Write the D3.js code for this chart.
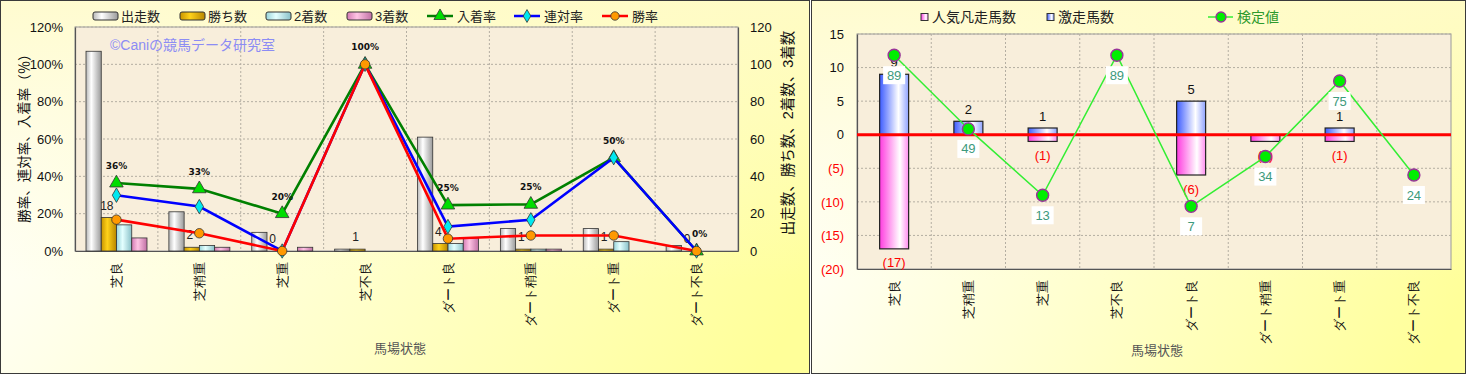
<!DOCTYPE html>
<html>
<head>
<meta charset="utf-8">
<script src="https://cdn.jsdelivr.net/npm/d3@7"></script>
<style>
    body { margin: 0; background: #fff; }
    svg { display: block; font-family: "Liberation Sans", "Noto Sans CJK JP", sans-serif; }
</style>
</head>
<body>
<div id="chart"></div>
<script>
// ---- data ----
const conditions = ['芝良', '芝稍重', '芝重', '芝不良', 'ダート良', 'ダート稍重', 'ダート重', 'ダート不良'];

// left chart: counts (right axis) and rates in % (left axis)
const runCounts    = [107, 21, 10, 1, 61, 12, 12, 3];
const winCounts    = [18, 2, 0, 1, 4, 1, 1, 0];
const secondCounts = [14, 3, 0, 0, 4, 1, 5, 0];
const thirdCounts  = [7, 2, 2, 0, 7, 1, 0, 0];
const placeRate    = [36.4, 33.3, 20, 100, 24.6, 25, 50, 0];
const rentaiRate   = [29.9, 23.8, 0, 100, 13.1, 16.7, 50, 0];
const winRate      = [16.8, 9.5, 0, 100, 6.6, 8.3, 8.3, 0];
const pctTicks     = [0, 20, 40, 60, 80, 100, 120];
const countTicks   = [0, 20, 40, 60, 80, 100, 120];

// right chart
const surgeCounts  = [9, 2, 1, 0, 5, 0, 1, 0];
const flopCounts   = [-17, 0, -1, 0, -6, -1, -1, 0];
const kenteiValues = [89, 49, 13, 89, 7, 34, 75, 24];
const diffTicks    = [-20, -15, -10, -5, 0, 5, 10, 15];

const W = 1466, H = 374;

const svg = d3.select('#chart').append('svg')
    .attr('width', W)
    .attr('height', H);
const defs = svg.append('defs');

function addGradient(id, stops, x1, y1, x2, y2) {
    let g = defs.append('linearGradient').attr('id', id)
        .attr('x1', x1).attr('y1', y1).attr('x2', x2).attr('y2', y2);
    stops.forEach(s => g.append('stop').attr('offset', s[0]).attr('stop-color', s[1]).attr('stop-opacity', s[2] === undefined ? 1 : s[2]));
}

addGradient('panelBg',  [[0, '#fffffa'], [1, '#ffff99']], 0, 0.5, 1, 0.8);
addGradient('panelTop', [[0, '#fffbc8', 0.85], [0.75, '#fffbc8', 0]], 0, 0, 0, 1);
addGradient('gRun',    [[0, '#b8b8b8'], [0.35, '#ffffff'], [1, '#9a9a9a']], 0, 0, 1, 0);
addGradient('gWin',    [[0, '#c89400'], [0.4, '#ffd21a'], [1, '#b88600']], 0, 0, 1, 0);
addGradient('gSecond', [[0, '#9ad4da'], [0.4, '#e4ffff'], [1, '#88c0c8']], 0, 0, 1, 0);
addGradient('gThird',  [[0, '#d47cb4'], [0.4, '#ffc4e4'], [1, '#c070a4']], 0, 0, 1, 0);
addGradient('gSurge',  [[0, '#3d5cff'], [0.65, '#ffffff'], [1, '#8fa2ff']], 0, 0, 1, 0);
addGradient('gFlop',   [[0, '#ff3ce0'], [0.7, '#ffffff'], [1, '#ff8cf0']], 0, 0, 1, 0);

function drawPanel(g, width) {
    g.append('rect')
        .attr('x', 0.5).attr('y', 0.5)
        .attr('width', width - 1).attr('height', H - 1)
        .attr('fill', 'url(#panelBg)');
    g.append('rect')
        .attr('x', 0.5).attr('y', 0.5)
        .attr('width', width - 1).attr('height', H - 1)
        .attr('fill', 'url(#panelTop)')
        .attr('stroke', '#3a3a3a');
}

/* * * * * * * * * * * * * *
*    left: results chart   *
* * * * * * * * * * * * * */
class ResultsChart {

    constructor(parent) {
        this.parent = parent;
        this.barSeries = [
            {name: '出走数', values: runCounts, grad: 'gRun'},
            {name: '勝ち数', values: winCounts, grad: 'gWin'},
            {name: '2着数', values: secondCounts, grad: 'gSecond'},
            {name: '3着数', values: thirdCounts, grad: 'gThird'}
        ];
        this.lineSeries = [
            {name: '入着率', values: placeRate, color: '#008000', fill: '#00dd00', symbol: d3.symbolTriangle, size: 80},
            {name: '連対率', values: rentaiRate, color: '#0000ff', fill: '#00e8f0', symbol: d3.symbolDiamond, size: 60},
            {name: '勝率', values: winRate, color: '#ff0000', fill: '#ff9900', symbol: d3.symbolCircle, size: 70}
        ];
        this.initVis();
    }

    initVis() {
        let vis = this;

        vis.margin = {top: 27, right: 72, bottom: 123, left: 75};
        vis.width = 810 - vis.margin.left - vis.margin.right;
        vis.height = H - vis.margin.top - vis.margin.bottom;

        vis.panel = vis.parent.append('g');
        drawPanel(vis.panel, 810);

        vis.svg = vis.panel.append('g')
            .attr('transform', `translate(${vis.margin.left},${vis.margin.top})`);

        // scales
        vis.x = d3.scaleBand().domain(conditions).range([0, vis.width]);
        vis.xSub = d3.scaleBand().domain(vis.barSeries.map(d => d.name)).range([11, 72]);
        vis.yPct = d3.scaleLinear().domain([0, 120]).range([vis.height, 0]);
        vis.yCnt = d3.scaleLinear().domain([0, 120]).range([vis.height, 0]);

        vis.svg.append('rect')
            .attr('width', vis.width).attr('height', vis.height)
            .attr('fill', '#f8eedb')
            .attr('stroke', '#999');

        // grid
        vis.svg.append('g').selectAll('line.h')
            .data(pctTicks.slice(1))
            .join('line')
            .attr('x1', 0).attr('x2', vis.width)
            .attr('y1', d => vis.yPct(d)).attr('y2', d => vis.yPct(d))
            .attr('stroke', '#b4aea2').attr('stroke-dasharray', '2,2');
        vis.svg.append('g').selectAll('line.v')
            .data(conditions.slice(1))
            .join('line')
            .attr('x1', d => vis.x(d)).attr('x2', d => vis.x(d))
            .attr('y1', 0).attr('y2', vis.height)
            .attr('stroke', '#b4aea2').attr('stroke-dasharray', '2,2');

        vis.svg.append('text')
            .text('©Caniの競馬データ研究室')
            .attr('x', 35).attr('y', 23)
            .attr('fill', '#8c8cf4')
            .attr('font-size', 14);

        // axes
        let yAxisL = d3.axisLeft(vis.yPct).tickValues(pctTicks).tickFormat(d => d + '%').tickSize(0).tickPadding(12);
        let yAxisR = d3.axisRight(vis.yCnt).tickValues(countTicks).tickSize(0).tickPadding(12);
        let xAxis = d3.axisBottom(vis.x).tickSize(0);

        vis.svg.append('g').attr('class', 'axis').call(yAxisL);
        vis.svg.append('g').attr('class', 'axis')
            .attr('transform', `translate(${vis.width},0)`)
            .call(yAxisR);
        let xg = vis.svg.append('g').attr('class', 'axis')
            .attr('transform', `translate(0,${vis.height})`)
            .call(xAxis);
        xg.selectAll('text')
            .attr('x', -11).attr('y', 0).attr('dy', '0.35em')
            .attr('transform', 'rotate(-90)')
            .style('text-anchor', 'end');

        vis.svg.selectAll('.axis text').attr('font-size', 13).attr('fill', '#111');
        vis.svg.selectAll('.axis path').attr('stroke', '#555').attr('stroke-width', 1.2);

        // axis titles
        vis.panel.append('text')
            .text('勝率、連対率、入着率（％）')
            .attr('transform', `translate(29,${vis.margin.top + 108}) rotate(-90)`)
            .attr('text-anchor', 'middle')
            .attr('font-size', 13.5).attr('fill', '#111');
        vis.panel.append('text')
            .text('出走数、勝ち数、2着数、3着数')
            .attr('transform', `translate(793,${vis.margin.top + 106}) rotate(-90)`)
            .attr('text-anchor', 'middle')
            .attr('font-size', 14.5).attr('fill', '#111');
        vis.panel.append('text')
            .text('馬場状態')
            .attr('x', 400).attr('y', 353)
            .attr('text-anchor', 'middle')
            .attr('font-size', 13).attr('fill', '#555');

        vis.drawLegend();
        vis.updateVis();
    }

    drawLegend() {
        let vis = this;
        let barX = [93, 180, 266, 347];
        let lineX = [427, 514, 602];
        let ly = 16;

        vis.barSeries.forEach((s, i) => {
            vis.panel.append('rect')
                .attr('x', barX[i]).attr('y', ly - 4).attr('width', 25).attr('height', 8)
                .attr('rx', 2)
                .attr('fill', `url(#${s.grad})`).attr('stroke', '#333');
            vis.panel.append('text').text(s.name)
                .attr('x', barX[i] + 28).attr('y', ly).attr('dy', '0.35em')
                .attr('font-size', 13).attr('fill', '#222');
        });
        vis.lineSeries.forEach((s, i) => {
            vis.panel.append('line')
                .attr('x1', lineX[i]).attr('x2', lineX[i] + 26)
                .attr('y1', ly).attr('y2', ly)
                .attr('stroke', s.color).attr('stroke-width', 2.5);
            vis.panel.append('path')
                .attr('d', d3.symbol(s.symbol).size(s.size * 0.8)())
                .attr('transform', `translate(${lineX[i] + 13},${ly})`)
                .attr('fill', s.fill).attr('stroke', '#333').attr('stroke-width', 0.8);
            vis.panel.append('text').text(s.name)
                .attr('x', lineX[i] + 30).attr('y', ly).attr('dy', '0.35em')
                .attr('font-size', 13).attr('fill', '#222');
        });
    }

    updateVis() {
        let vis = this;

        // bars
        vis.svg.append('g').selectAll('g')
            .data(vis.barSeries)
            .join('g')
            .attr('fill', d => `url(#${d.grad})`)
            .selectAll('rect')
            .data(d => d.values.map((v, i) => ({key: d.name, cat: conditions[i], v: v})).filter(e => e.v > 0))
            .join('rect')
            .attr('x', d => vis.x(d.cat) + vis.xSub(d.key))
            .attr('width', vis.xSub.bandwidth())
            .attr('y', d => vis.yCnt(d.v))
            .attr('height', d => vis.height - vis.yCnt(d.v))
            .attr('stroke', '#333').attr('stroke-width', 0.8);

        // win count labels
        vis.svg.append('g').selectAll('text')
            .data(winCounts)
            .join('text')
            .text(d => d)
            .attr('x', (d, i) => vis.x(conditions[i]) + vis.xSub('勝ち数') + vis.xSub.bandwidth() / 2 - 2)
            .attr('y', d => vis.yCnt(d) - 12)
            .attr('dy', '0.35em')
            .attr('text-anchor', 'middle')
            .attr('font-size', 12).attr('fill', '#222');

        // rate lines
        let cx = i => vis.x(conditions[i]) + vis.x.bandwidth() / 2;
        vis.lineSeries.forEach(s => {
            let line = d3.line().x((d, i) => cx(i)).y(d => vis.yPct(d));
            vis.svg.append('path')
                .datum(s.values)
                .attr('d', line)
                .attr('fill', 'none')
                .attr('stroke', s.color)
                .attr('stroke-width', 2.6);
            vis.svg.append('g').selectAll('path')
                .data(s.values)
                .join('path')
                .attr('d', d3.symbol(s.symbol).size(s.size)())
                .attr('transform', (d, i) => `translate(${cx(i)},${vis.yPct(d)})`)
                .attr('fill', s.fill).attr('stroke', '#333').attr('stroke-width', 0.8);
        });

        // place rate labels
        vis.svg.append('g').selectAll('text')
            .data(placeRate)
            .join('text')
            .text(d => Math.round(d) + '%')
            .attr('x', (d, i) => cx(i) + (d === 0 ? 3 : 0))
            .attr('y', d => vis.yPct(d) - 17)
            .attr('dy', '0.35em')
            .attr('text-anchor', 'middle')
            .attr('font-family', 'DejaVu Sans')
            .attr('font-weight', 'bold')
            .attr('font-size', 9).attr('fill', '#111');
    }
}

/* * * * * * * * * * * * * *
*    right: kentei chart   *
* * * * * * * * * * * * * */
class KenteiChart {

    constructor(parent, x0) {
        this.parent = parent;
        this.x0 = x0;
        this.initVis();
    }

    initVis() {
        let vis = this;

        vis.panelWidth = W - vis.x0;
        vis.margin = {top: 34, right: 15, bottom: 105, left: 46};
        vis.width = vis.panelWidth - vis.margin.left - vis.margin.right;
        vis.height = H - vis.margin.top - vis.margin.bottom;

        vis.panel = vis.parent.append('g').attr('transform', `translate(${vis.x0},0)`);
        drawPanel(vis.panel, vis.panelWidth);

        vis.svg = vis.panel.append('g')
            .attr('transform', `translate(${vis.margin.left},${vis.margin.top})`);

        vis.x = d3.scaleBand().domain(conditions).range([0, vis.width]);
        vis.y = d3.scaleLinear().domain([-20, 15]).range([vis.height, 0]);
        // hidden secondary scale for the kentei line
        vis.yK = d3.scaleLinear().domain([-27, 100.5]).range([vis.height, 0]);

        vis.svg.append('rect')
            .attr('width', vis.width).attr('height', vis.height)
            .attr('fill', '#f8eedb')
            .attr('stroke', '#999');

        vis.svg.append('g').selectAll('line')
            .data(diffTicks.slice(1))
            .join('line')
            .attr('x1', 0).attr('x2', vis.width)
            .attr('y1', d => vis.y(d)).attr('y2', d => vis.y(d))
            .attr('stroke', '#b4aea2').attr('stroke-dasharray', '2,2');
        vis.svg.append('g').selectAll('line')
            .data(conditions.slice(1))
            .join('line')
            .attr('x1', d => vis.x(d)).attr('x2', d => vis.x(d))
            .attr('y1', 0).attr('y2', vis.height)
            .attr('stroke', '#b4aea2').attr('stroke-dasharray', '2,2');

        let yAxis = d3.axisLeft(vis.y).tickValues(diffTicks)
            .tickFormat(d => d < 0 ? `(${-d})` : d).tickSize(0).tickPadding(13);
        let yg = vis.svg.append('g').attr('class', 'axis').call(yAxis);
        yg.selectAll('text').attr('fill', d => d < 0 ? '#ff0000' : '#111');

        let xg = vis.svg.append('g').attr('class', 'axis')
            .attr('transform', `translate(0,${vis.height})`)
            .call(d3.axisBottom(vis.x).tickSize(0));
        xg.selectAll('text')
            .attr('x', -11).attr('y', 0).attr('dy', '0.35em')
            .attr('transform', 'rotate(-90)')
            .style('text-anchor', 'end')
            .attr('fill', '#111');

        vis.svg.selectAll('.axis text').attr('font-size', 13);
        vis.svg.selectAll('.axis path').attr('stroke', '#555').attr('stroke-width', 1.2);

        vis.panel.append('text')
            .text('馬場状態')
            .attr('x', 1157 - vis.x0).attr('y', 355)
            .attr('text-anchor', 'middle')
            .attr('font-size', 13).attr('fill', '#555');

        vis.drawLegend();
        vis.updateVis();
    }

    drawLegend() {
        let vis = this;
        let ly = 17;
        let items = [
            {name: '人気凡走馬数', grad: 'gFlop', x: 921 - vis.x0},
            {name: '激走馬数', grad: 'gSurge', x: 1047 - vis.x0}
        ];
        items.forEach(it => {
            vis.panel.append('rect')
                .attr('x', it.x).attr('y', ly - 3.5).attr('width', 7).attr('height', 7)
                .attr('fill', `url(#${it.grad})`).attr('stroke', '#333');
            vis.panel.append('text').text(it.name)
                .attr('x', it.x + 11).attr('y', ly).attr('dy', '0.35em')
                .attr('font-size', 14).attr('fill', '#222');
        });
        let lx = 1208 - vis.x0;
        vis.panel.append('line')
            .attr('x1', lx).attr('x2', lx + 25).attr('y1', ly).attr('y2', ly)
            .attr('stroke', '#33ee33').attr('stroke-width', 1.5);
        vis.panel.append('circle')
            .attr('cx', lx + 13).attr('cy', ly).attr('r', 5)
            .attr('fill', '#00ee00').attr('stroke', '#993399').attr('stroke-width', 1.3);
        vis.panel.append('text').text('検定値')
            .attr('x', lx + 29).attr('y', ly).attr('dy', '0.35em')
            .attr('font-size', 14).attr('fill', '#2d9a2d');
    }

    updateVis() {
        let vis = this;
        let cx = i => vis.x(conditions[i]) + vis.x.bandwidth() / 2;
        let bw = 29;

        let bars = [
            {values: surgeCounts, grad: 'gSurge'},
            {values: flopCounts, grad: 'gFlop'}
        ];
        bars.forEach(b => {
            vis.svg.append('g').selectAll('rect')
                .data(b.values.map((v, i) => ({v: v, i: i})).filter(d => d.v !== 0))
                .join('rect')
                .attr('x', d => cx(d.i) - bw / 2)
                .attr('width', bw)
                .attr('y', d => vis.y(Math.max(0, d.v)))
                .attr('height', d => Math.abs(vis.y(d.v) - vis.y(0)))
                .attr('fill', `url(#${b.grad})`)
                .attr('stroke', '#222').attr('stroke-width', 1.2);
        });

        // bar labels
        vis.svg.append('g').selectAll('text')
            .data(surgeCounts.map((v, i) => ({v: v, i: i})).filter(d => d.v > 0))
            .join('text')
            .text(d => d.v)
            .attr('x', d => cx(d.i)).attr('y', d => vis.y(d.v) - 12)
            .attr('dy', '0.35em').attr('text-anchor', 'middle')
            .attr('font-size', 13).attr('fill', '#111');
        vis.svg.append('g').selectAll('text')
            .data(flopCounts.map((v, i) => ({v: v, i: i})).filter(d => d.v < 0))
            .join('text')
            .text(d => `(${-d.v})`)
            .attr('x', d => cx(d.i)).attr('y', d => vis.y(d.v) + 14)
            .attr('dy', '0.35em').attr('text-anchor', 'middle')
            .attr('font-size', 13).attr('fill', '#ff0000');

        // zero line
        vis.svg.append('line')
            .attr('x1', 0).attr('x2', vis.width)
            .attr('y1', vis.y(0)).attr('y2', vis.y(0))
            .attr('stroke', '#ff0000').attr('stroke-width', 3);

        // kentei line
        vis.svg.append('path')
            .datum(kenteiValues)
            .attr('d', d3.line().x((d, i) => cx(i)).y(d => vis.yK(d)))
            .attr('fill', 'none')
            .attr('stroke', '#33ee33').attr('stroke-width', 1.5);

        let pts = vis.svg.append('g').selectAll('g')
            .data(kenteiValues)
            .join('g')
            .attr('transform', (d, i) => `translate(${cx(i)},${vis.yK(d)})`);
        pts.append('circle')
            .attr('r', 6)
            .attr('fill', '#00ee00').attr('stroke', '#993399').attr('stroke-width', 1.4);
        pts.append('rect')
            .attr('x', -11).attr('y', 11).attr('width', 22).attr('height', 18)
            .attr('fill', '#ffffff');
        pts.append('text')
            .text(d => d)
            .attr('y', 20).attr('dy', '0.35em')
            .attr('text-anchor', 'middle')
            .attr('font-size', 13).attr('fill', '#3d9a7c');
    }
}

new ResultsChart(svg);
new KenteiChart(svg, 811);
</script>
</body>
</html>
